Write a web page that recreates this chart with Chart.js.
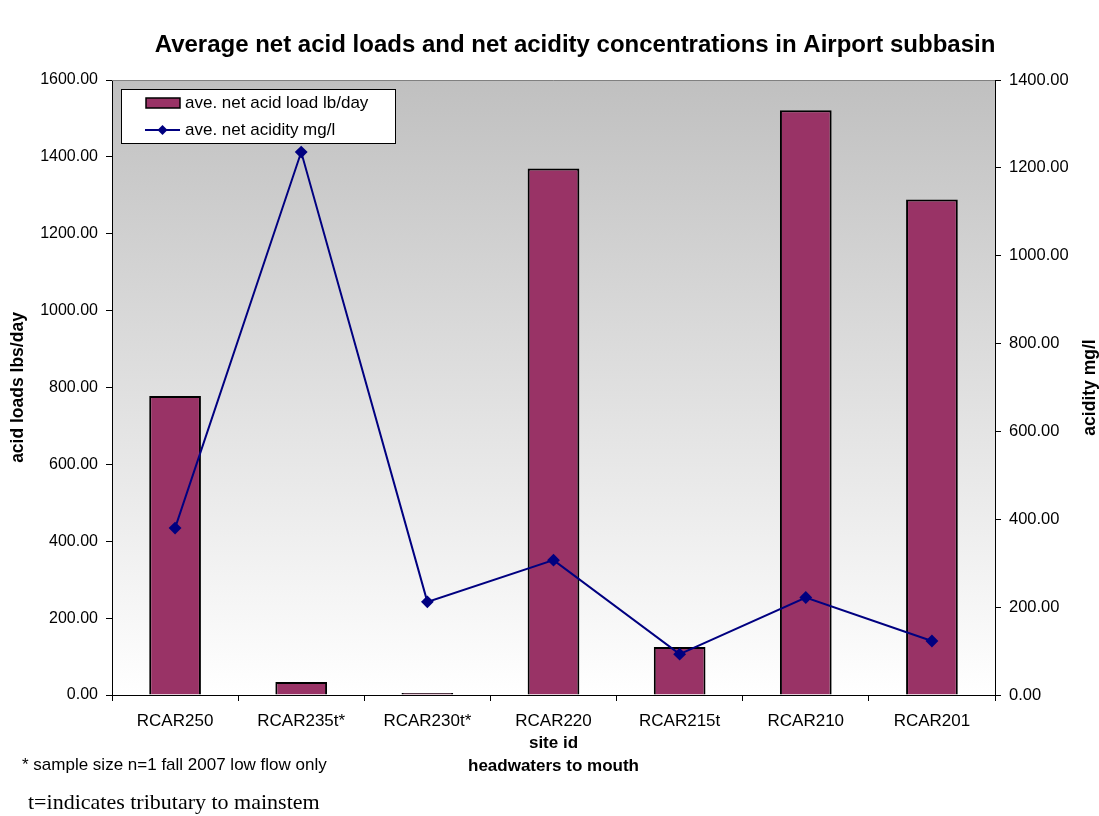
<!DOCTYPE html>
<html>
<head>
<meta charset="utf-8">
<script src="https://cdn.jsdelivr.net/npm/chart.js@4"></script>
<style>
  html, body { margin: 0; padding: 0; background: #ffffff; }
  #c { display: block; }
</style>
</head>
<body>
<canvas id="c" width="1099" height="816"></canvas>
<script>
// Sites ordered from headwaters to mouth
const sites = ['RCAR250', 'RCAR235t*', 'RCAR230t*', 'RCAR220', 'RCAR215t', 'RCAR210', 'RCAR201'];
// Average net acid load, lb/day (left axis)
const acidLoad = [778, 34, 5, 1370, 125, 1521, 1289];
// Average net acidity, mg/l (right axis)
const acidity = [380, 1236, 212, 307, 93, 222, 123];

const loadAxis = { min: 0, max: 1600, step: 200 };
const acidityAxis = { min: 0, max: 1400, step: 200 };

const titleText = 'Average net acid loads and net acidity concentrations in Airport subbasin';
const leftTitle = 'acid loads lbs/day';
const rightTitle = 'acidity mg/l';
const xTitle = ['site id', 'headwaters to mouth'];
const noteSample = '* sample size n=1 fall 2007 low flow only';
const noteTrib = 't=indicates tributary to mainstem';

const SANS = 'Arial, "Liberation Sans", sans-serif';
const SERIF = '"Times New Roman", "Liberation Serif", serif';
const BAR_COLOR = '#993366';
const LINE_COLOR = '#000080';

const decorations = {
  id: 'decorations',
  beforeDraw(chart) {
    const { ctx, chartArea: a } = chart;
    ctx.save();
    ctx.fillStyle = '#ffffff';
    ctx.fillRect(0, 0, chart.width, chart.height);
    const g = ctx.createLinearGradient(0, a.top, 0, a.bottom);
    g.addColorStop(0, '#c0c0c0');
    g.addColorStop(1, '#ffffff');
    ctx.fillStyle = g;
    ctx.fillRect(a.left, a.top, a.right - a.left, a.bottom - a.top);
    ctx.restore();
  },
  afterDraw(chart) {
    const { ctx, chartArea: a } = chart;
    ctx.save();
    // top edge of plot area
    ctx.strokeStyle = '#808080';
    ctx.lineWidth = 1;
    ctx.beginPath();
    ctx.moveTo(a.left, a.top + 0.5);
    ctx.lineTo(a.right, a.top + 0.5);
    ctx.stroke();

    // chart title
    ctx.fillStyle = '#000000';
    ctx.textAlign = 'center';
    ctx.textBaseline = 'middle';
    ctx.font = 'bold 24px ' + SANS;
    ctx.fillText(titleText, 575, 45);

    // right axis title, reading bottom to top
    ctx.save();
    ctx.translate(1090, (a.top + a.bottom) / 2);
    ctx.rotate(-Math.PI / 2);
    ctx.font = 'bold 17.5px ' + SANS;
    ctx.fillText(rightTitle, 0, 0);
    ctx.restore();

    // footnotes
    ctx.textAlign = 'left';
    ctx.font = '17px ' + SANS;
    ctx.fillText(noteSample, 22, 765);
    ctx.font = '22px ' + SERIF;
    ctx.fillText(noteTrib, 28, 803);

    // legend box
    const lx = 121, ly = 89, lw = 274, lh = 54;
    ctx.fillStyle = '#ffffff';
    ctx.fillRect(lx, ly, lw, lh);
    ctx.strokeStyle = '#000000';
    ctx.lineWidth = 1;
    ctx.strokeRect(lx + 0.5, ly + 0.5, lw, lh);
    const bars = chart.data.datasets[1];
    const line = chart.data.datasets[0];
    ctx.fillStyle = bars.backgroundColor;
    ctx.fillRect(146, 98, 34, 10);
    ctx.lineWidth = 1.5;
    ctx.strokeStyle = '#000000';
    ctx.strokeRect(146, 98, 34, 10);
    ctx.strokeStyle = line.borderColor;
    ctx.lineWidth = 2;
    ctx.beginPath();
    ctx.moveTo(145, 130);
    ctx.lineTo(180, 130);
    ctx.stroke();
    ctx.fillStyle = line.borderColor;
    ctx.beginPath();
    ctx.moveTo(162.5, 125); ctx.lineTo(167.5, 130); ctx.lineTo(162.5, 135); ctx.lineTo(157.5, 130);
    ctx.closePath();
    ctx.fill();
    ctx.fillStyle = '#000000';
    ctx.font = '17px ' + SANS;
    ctx.textBaseline = 'middle';
    ctx.fillText(bars.label, 185, 103);
    ctx.fillText(line.label, 185, 130);
    ctx.restore();
  }
};

const fmt = v => Number(v).toFixed(2);

new Chart(document.getElementById('c'), {
  data: {
    labels: sites,
    datasets: [
      {
        type: 'line',
        label: 'ave. net acidity mg/l',
        data: acidity,
        yAxisID: 'yR',
        borderColor: LINE_COLOR,
        backgroundColor: LINE_COLOR,
        borderWidth: 2,
        pointStyle: 'rectRot',
        pointRadius: 5,
        pointHoverRadius: 5,
        tension: 0,
        order: 0
      },
      {
        type: 'bar',
        label: 'ave. net acid load lb/day',
        data: acidLoad,
        yAxisID: 'yL',
        backgroundColor: BAR_COLOR,
        borderColor: '#000000',
        borderWidth: 2,
        barPercentage: 0.41,
        categoryPercentage: 1,
        order: 1
      }
    ]
  },
  options: {
    responsive: false,
    animation: false,
    devicePixelRatio: 1,
    layout: { padding: { top: 80, left: 0, right: 0, bottom: 0 } },
    plugins: { legend: { display: false }, title: { display: false }, tooltip: { enabled: false } },
    scales: {
      x: {
        afterFit(s) { s.height = 121; },
        grid: { display: true, drawOnChartArea: false, offset: true, tickLength: 6, color: '#000000' },
        border: { display: true, color: '#000000', width: 1 },
        ticks: { color: '#000000', font: { family: SANS, size: 17 }, padding: 10, maxRotation: 0 },
        title: {
          display: true, text: xTitle, color: '#000000',
          font: { family: SANS, size: 17, weight: 'bold', lineHeight: '23px' },
          padding: { top: 0, bottom: 38.5 }
        }
      },
      yL: {
        position: 'left',
        min: loadAxis.min, max: loadAxis.max,
        afterFit(s) { s.width = 112; },
        grid: { display: true, drawOnChartArea: false, tickLength: 6, color: '#000000' },
        border: { display: true, color: '#000000', width: 1 },
        ticks: { stepSize: loadAxis.step, callback: fmt, color: '#000000', font: { family: SANS, size: 16 }, padding: 8 },
        title: {
          display: true, text: leftTitle, color: '#000000',
          font: { family: SANS, size: 17.5, weight: 'bold' },
          padding: { top: 8, bottom: 0 }
        }
      },
      yR: {
        position: 'right',
        min: acidityAxis.min, max: acidityAxis.max,
        afterFit(s) { s.width = 104; },
        grid: { display: true, drawOnChartArea: false, tickLength: 6, color: '#000000' },
        border: { display: true, color: '#000000', width: 1 },
        ticks: { stepSize: acidityAxis.step, callback: fmt, color: '#000000', font: { family: SANS, size: 16.5 }, padding: 8 }
      }
    }
  },
  plugins: [decorations]
});
</script>
</body>
</html>
